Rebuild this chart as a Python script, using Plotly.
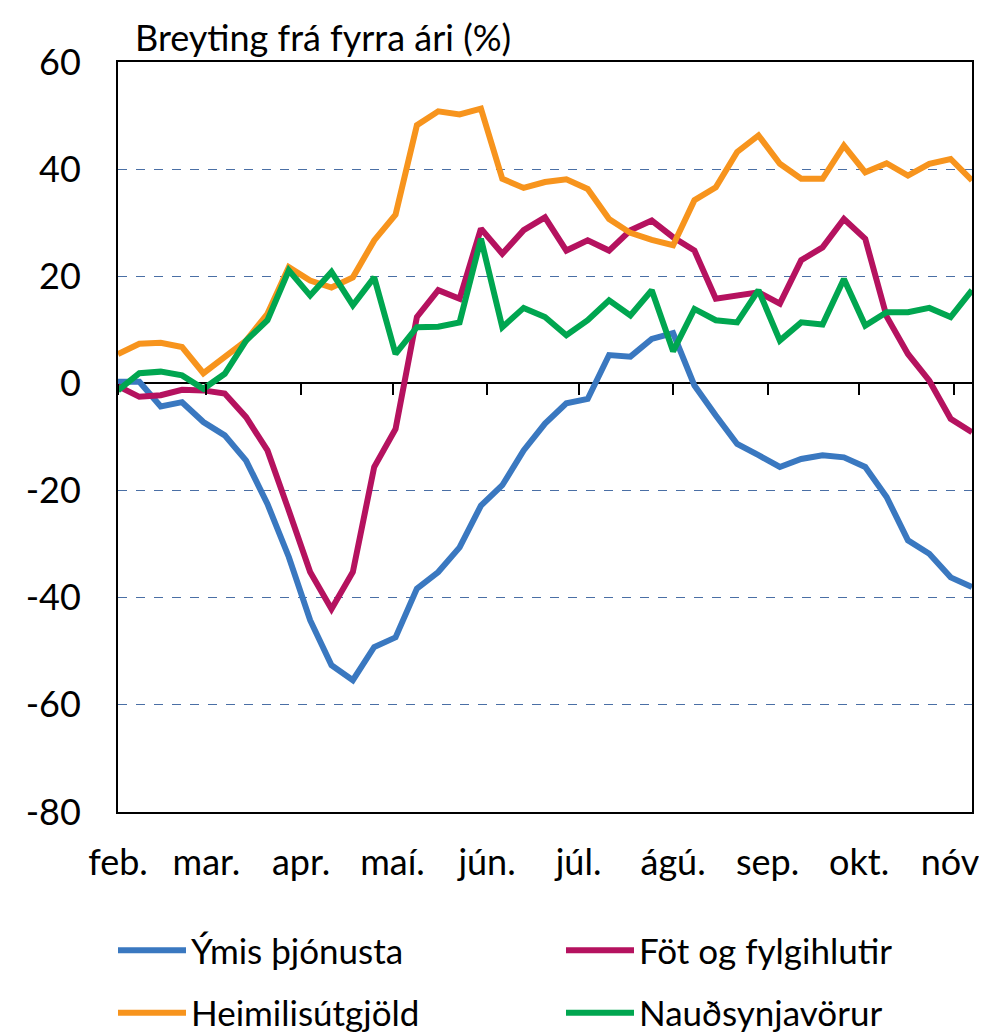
import plotly.graph_objects as go
import pandas as pd

# ---- data ----
dates = pd.date_range("2020-02-01", periods=41, freq="7D")

ymis = [0.3, 0.3, -4.3, -3.5, -7.2, -9.7, -14.4, -22.5, -32.4, -44.2,
        -52.6, -55.4, -49.2, -47.4, -38.3, -35.2, -30.6, -22.8, -19.0, -12.5,
        -7.5, -3.7, -2.9, 5.3, 5.0, 8.3, 9.4, -0.4, -6.0, -11.3,
        -13.4, -15.6, -14.1, -13.4, -13.8, -15.6, -21.2, -29.3, -31.8, -36.2,
        -38.0]
fot = [-0.5, -2.5, -2.2, -1.2, -1.3, -1.9, -6.3, -12.5, -23.7, -35.2,
       -42.1, -35.2, -15.6, -8.5, 12.4, 17.4, 15.8, 28.9, 24.2, 28.6,
       31.0, 24.8, 26.7, 24.8, 28.6, 30.4, 27.3, 24.8, 15.8, 16.4,
       17.0, 14.9, 23.0, 25.4, 30.7, 27.0, 12.5, 5.5, 0.5, -6.6,
       -9.1]
heimilis = [5.5, 7.4, 7.6, 6.8, 1.9, 4.9, 8.0, 13.0, 21.7, 19.2,
            17.9, 19.8, 26.7, 31.5, 48.2, 50.8, 50.2, 51.3, 38.2, 36.5,
            37.6, 38.1, 36.3, 30.7, 28.1, 26.8, 25.8, 34.2, 36.6, 43.2,
            46.3, 41.0, 38.2, 38.2, 44.4, 39.4, 41.1, 38.8, 41.0, 41.9,
            37.9]
naudsyn = [-1.3, 1.9, 2.2, 1.5, -1.0, 1.8, 8.0, 11.8, 21.1, 16.4,
           20.8, 14.6, 19.8, 5.5, 10.5, 10.6, 11.4, 27.0, 10.5, 14.1,
           12.4, 9.0, 11.8, 15.5, 12.7, 17.4, 6.0, 13.9, 11.8, 11.4,
           17.4, 8.0, 11.4, 11.0, 19.5, 10.8, 13.3, 13.3, 14.1, 12.4,
           17.4]

month_ticks = ["2020-02-01", "2020-03-01", "2020-04-01", "2020-05-01", "2020-06-01",
               "2020-07-01", "2020-08-01", "2020-09-01", "2020-10-01", "2020-11-01"]
month_labels = ["feb.", "mar.", "apr.", "maí.", "jún.", "júl.", "ágú.", "sep.", "okt.", "nóv."]
y_ticks = [60, 40, 20, 0, -20, -40, -60, -80]
y_labels = ["60", "40", "20", "0", "-20", "-40", "-60", "-80"]

series = [
    ("Ýmis þjónusta", ymis, "#3A78C0", "legend"),
    ("Föt og fylgihlutir", fot, "#B5125F", "legend2"),
    ("Heimilisútgjöld", heimilis, "#F7941D", "legend"),
    ("Nauðsynjavörur", naudsyn, "#00A650", "legend2"),
]

FONT = "Lato"
FS = 36
LFS = 35
fig = go.Figure()
for name, vals, col, lg in series:
    fig.add_trace(go.Scatter(x=dates, y=vals, name=name, mode="lines",
                             line=dict(color=col, width=6), legend=lg,
                             legendgroup=name))

xr = [dates[0], dates[-1]]
leg_common = dict(orientation="v", xref="container", yref="container",
                  xanchor="left", yanchor="top", y=1 - 913 / 1032,
                  itemwidth=68, tracegroupgap=14, bgcolor="rgba(0,0,0,0)",
                  font=dict(family=FONT, size=LFS, color="black"))
fig.update_layout(
    width=987, height=1032,
    margin=dict(l=110, r=23, t=54, b=228, autoexpand=False),
    paper_bgcolor="white", plot_bgcolor="white",
    font=dict(family=FONT, size=FS, color="black"),
    showlegend=True,
    legend=dict(x=105 / 987, **leg_common),
    legend2=dict(x=553 / 987, **leg_common),
    xaxis=dict(type="date", range=xr, tickvals=month_ticks, ticktext=month_labels,
               tickangle=0, automargin=False,
               ticks="outside", ticklen=18, tickcolor="rgba(0,0,0,0)",
               showgrid=False, zeroline=False,
               showline=True, linecolor="black", linewidth=2, mirror=True),
    xaxis2=dict(type="date", range=xr, overlaying="x", anchor="free", position=80 / 140,
                tickvals=month_ticks, showticklabels=False, ticks="outside", ticklen=11,
                automargin=False,
                tickwidth=2, tickcolor="black", showgrid=False, zeroline=False, showline=False),
    yaxis=dict(range=[-80, 60], tickvals=y_ticks, ticktext=y_labels, ticks="outside",
               ticklen=28, tickcolor="rgba(0,0,0,0)", automargin=False,
               showgrid=True, gridcolor="#4A6FA5", griddash="dash", gridwidth=1,
               zeroline=True, zerolinecolor="black", zerolinewidth=2,
               showline=True, linecolor="black", linewidth=2, mirror=True),
    annotations=[dict(text="Breyting frá fyrra ári (%)", xref="paper", yref="paper",
                      x=(133 - 118) / 854, y=(812 - 37) / 750, xanchor="left", yanchor="middle",
                      showarrow=False, font=dict(family=FONT, size=FS))],
)
# an invisible trace on xaxis2 so the overlay axis is drawn
fig.add_trace(go.Scatter(x=[dates[0]], y=[None], xaxis="x2", showlegend=False,
                         hoverinfo="skip"))

fig.write_html("out.html")
